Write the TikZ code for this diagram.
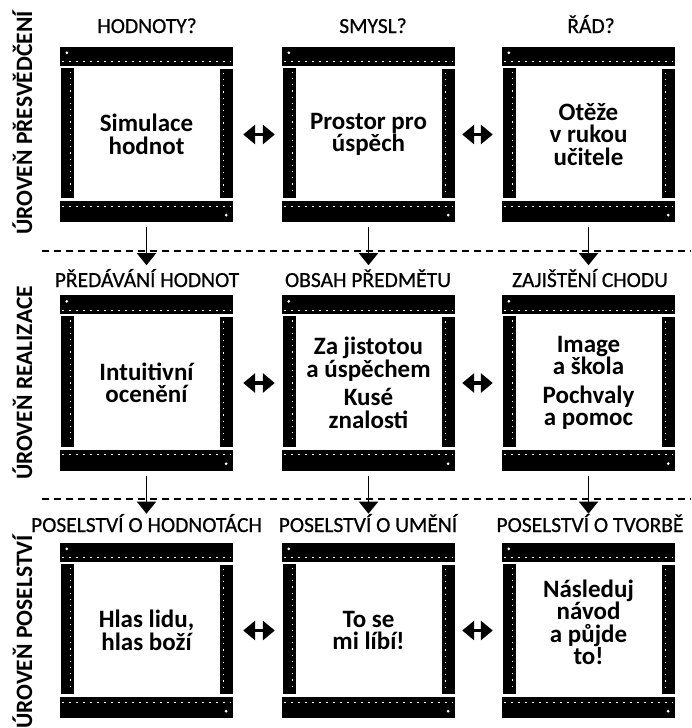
\documentclass[tikz,border=0pt]{standalone}
\usepackage{fontspec}
\setmainfont{Carlito}
\newfontfamily\hdrfont[FakeBold=0.6]{Carlito}
\usetikzlibrary{arrows.meta,calc}
\tikzset{
  box/.style={minimum width=173pt, minimum height=175pt, inner sep=0pt, align=center,
    font=\bfseries\fontsize{25}{22.5}\selectfont},
  frm/.style={minimum width=173pt, minimum height=175pt, inner sep=0pt},
  hdr/.style={font=\hdrfont\fontsize{21.5}{23}\selectfont, inner sep=0pt, anchor=base},
  lvl/.style={font=\bfseries\fontsize{23.5}{24}\selectfont, rotate=90, inner sep=0pt, anchor=base},
  dbl/.style={line width=3.5pt, {Triangle[length=12pt,width=19pt]}-{Triangle[length=12pt,width=19pt]}},
  darr/.style={line width=1.6pt, -{Triangle[length=12pt,width=19pt]}},
  sepline/.style={line width=1.8pt, dash pattern=on 7pt off 5pt},
  ruler/.style={white, line width=1.1pt, dash pattern=on 2pt off 5pt},
  tick/.style={white, line width=0.9pt, dash pattern=on 1.2pt off 5pt},
}
\newcommand\filmframe[1]{%
  \fill ($(#1.north west)$) rectangle ($(#1.north east)+(0,19)$);
  \draw[ruler] ($(#1.north west)+(2,15)$) -- ($(#1.north east)+(-2,15)$);
  \fill[white] ($(#1.north west)+(7,6)$) circle (1.5pt);
  \fill ($(#1.north west)+(1,21)$) rectangle ($(#1.south west)+(14,-24)$);
  \draw[tick] ($(#1.north west)+(11,25)$) -- ($(#1.south west)+(11,-27)$);
  \fill ($(#1.north east)+(-13,22)$) rectangle ($(#1.south east)+(0,-24)$);
  \draw[tick] ($(#1.north east)+(-10,26)$) -- ($(#1.south east)+(-10,-27)$);
  \fill ($(#1.south west)+(0,-21)$) rectangle ($(#1.south east)$);
  \draw[ruler] ($(#1.south west)+(2,-16)$) -- ($(#1.south east)+(-2,-16)$);
  \fill[white] ($(#1.south east)+(-7,-7)$) circle (1.5pt);
}
\begin{document}
\begin{tikzpicture}[x=1pt,y=-1pt]
\useasboundingbox (0,0) rectangle (691,728);
% level labels
\node[lvl] (l1) at (32,123) {ÚROVEŇ PŘESVĚDČENÍ};
\node[lvl] (l2) at (32,383) {ÚROVEŇ REALIZACE};
\node[lvl] (l3) at (32,632) {ÚROVEŇ POSELSTVÍ};
% separators
\coordinate (s1a) at (42,251); \coordinate (s1b) at (691,251);
\coordinate (s2a) at (42,499); \coordinate (s2b) at (691,499);
\draw[sepline] (s1a) -- (s1b);
\draw[sepline] (s2a) -- (s2b);
% headers
\node[hdr] (h11) at (147,33) {HODNOTY?};
\node[hdr] (h12) at (373,33) {SMYSL?};
\node[hdr] (h13) at (591,33) {ŘÁD?};
\node[hdr] (h21) at (147,287) {PŘEDÁVÁNÍ HODNOT};
\node[hdr] (h22) at (368,287) {OBSAH PŘEDMĚTU};
\node[hdr] (h23) at (590,287) {ZAJIŠTĚNÍ CHODU};
\node[hdr] (h31) at (146.5,532) {POSELSTVÍ O HODNOTÁCH};
\node[hdr] (h32) at (368,532) {POSELSTVÍ O UMĚNÍ};
\node[hdr] (h33) at (590,532) {POSELSTVÍ O TVORBĚ};
% frames
\node[frm] (f11) at (146.5,134.5) {};
\node[frm] (f12) at (368.5,134.5) {};
\node[frm] (f13) at (588.5,134.5) {};
\node[frm] (f21) at (146.5,383) {};
\node[frm] (f22) at (368.5,383) {};
\node[frm] (f23) at (588.5,383) {};
\node[frm] (f31) at (146.5,630.5) {};
\node[frm] (f32) at (368.5,630.5) {};
\node[frm] (f33) at (588.5,630.5) {};
\foreach \b in {f11,f12,f13,f21,f22,f23,f31,f32,f33} {\filmframe{\b}}
% box texts
\node[box] (b11) at (f11) {Simulace\\hodnot};
\node[box] (b12) at (f12) {Prostor pro\\úspěch};
\node[box] (b13) at (f13) {Otěže\\v rukou\\učitele};
\node[box] (b21) at (f21) {Intuitivní\\ocenění};
\node[box] (b22) at (f22) {Za jistotou\\a úspěchem\\[6pt]Kusé\\znalosti};
\node[box] (b23) at (f23) {Image\\a škola\\[6pt]Pochvaly\\a pomoc};
\node[box] (b31) at (f31) {Hlas lidu,\\hlas boží};
\node[box] (b32) at (f32) {To se\\mi líbí!};
\node[box] (b33) at ([yshift=8pt]f33.center) {Následuj\\návod\\a půjde\\to!};
% horizontal double arrows
\foreach \r in {1,2,3} {
  \draw[dbl] ([xshift=10pt]f\r1.east) -- ([xshift=-7pt]f\r2.west);
  \draw[dbl] ([xshift=7pt]f\r2.east) -- ([xshift=-9pt]f\r3.west);
}
% vertical arrows
\foreach \c in {1,2,3} {
  \draw[darr] ([yshift=-5pt]f1\c.south) -- ++(0,38);
  \draw[darr] ([yshift=-5pt]f2\c.south) -- ++(0,38);
}
\end{tikzpicture}
\end{document}
